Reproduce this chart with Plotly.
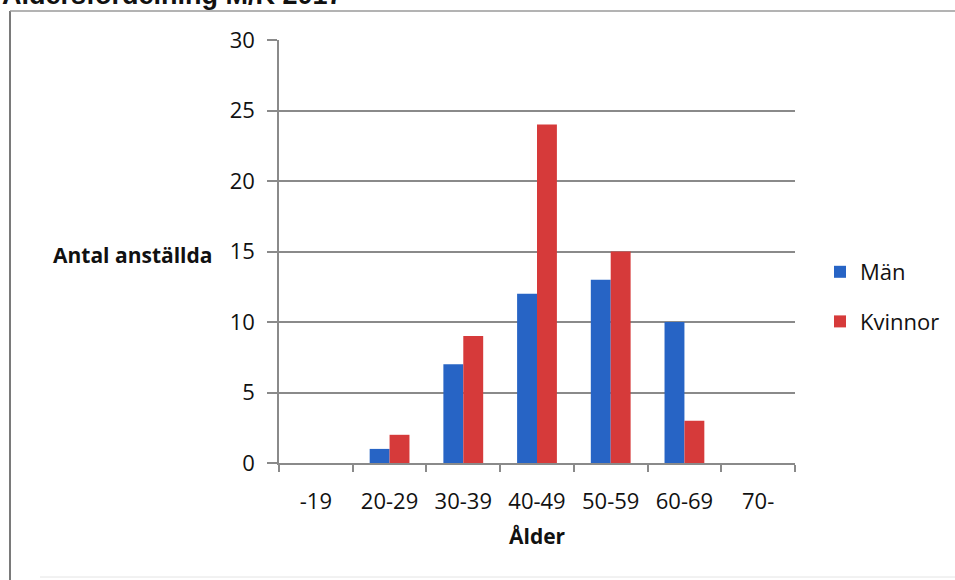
import plotly.graph_objects as go

# Age groups and head counts per group
age_groups = ["-19", "20-29", "30-39", "40-49", "50-59", "60-69", "70-"]
men = [0, 1, 7, 12, 13, 10, 0]
women = [0, 2, 9, 24, 15, 3, 0]
y_ticks = [0, 5, 10, 15, 20, 25, 30]

W, H = 955, 580
L, R, T, B = 279, 160, 40, 117
PW, PH = W - L - R, H - T - B


def px_x(x):
    return (x - L) / PW


def px_y(y):
    return (H - B - y) / PH


FONT = "Open Sans"
GRID = "#8a8a8a"
TXT = "#111"

fig = go.Figure()
fig.add_bar(name="Män", x=age_groups, y=men, marker_color="#2764c5",
            marker_line_width=0, legendgroup="m")
fig.add_bar(name="Kvinnor", x=age_groups, y=women, marker_color="#d63a3a",
            marker_line_width=0, legendgroup="k")

fig.update_layout(
    width=W, height=H,
    margin=dict(l=L, r=R, t=T, b=B, autoexpand=False),
    paper_bgcolor="white", plot_bgcolor="white",
    barmode="group", bargap=0.46, bargroupgap=0,
    font=dict(family=FONT, size=22, color=TXT),
    legend=dict(x=px_x(820), y=px_y(251), xanchor="left", yanchor="top",
                font=dict(family=FONT, size=22, color=TXT),
                tracegroupgap=18, itemwidth=30, bgcolor="rgba(0,0,0,0)"),
    xaxis=dict(type="category", showline=True, linecolor=GRID, linewidth=1.5,
               ticks="outside", tickson="boundaries", ticklen=7, tickcolor=GRID,
               tickwidth=1.5, showgrid=False, ticklabelstandoff=18,
               tickfont=dict(family=FONT, size=22, color=TXT)),
    yaxis=dict(range=[0, 30], tickvals=y_ticks, showline=True, linecolor=GRID,
               linewidth=1.5, ticks="outside", ticklen=10, tickcolor=GRID,
               tickwidth=1.5, showgrid=True, gridcolor=GRID, gridwidth=1.5,
               zeroline=False, ticklabelstandoff=8,
               tickfont=dict(family=FONT, size=22, color=TXT)),
    annotations=[
        dict(text="<b>Åldersfördelning M/K 2017</b>", xref="paper", yref="paper",
             x=px_x(0), y=px_y(-5), xanchor="left", yanchor="middle",
             showarrow=False, font=dict(family="Liberation Sans", size=27, color=TXT)),
        dict(text="<b>Antal anställda</b>", xref="paper", yref="paper",
             x=px_x(214), y=px_y(255), xanchor="right", yanchor="middle",
             showarrow=False, font=dict(family=FONT, size=21, color=TXT)),
        dict(text="<b>Ålder</b>", xref="paper", yref="paper",
             x=px_x(537), y=px_y(536), xanchor="center", yanchor="middle",
             showarrow=False, font=dict(family=FONT, size=21, color=TXT)),
    ],
    shapes=[
        dict(type="line", xref="paper", yref="paper", x0=px_x(10), x1=px_x(10),
             y0=px_y(11), y1=px_y(580), line=dict(color="#7a7a7a", width=2)),
        dict(type="line", xref="paper", yref="paper", x0=px_x(10), x1=px_x(955),
             y0=px_y(11), y1=px_y(11), line=dict(color="#9a9a9a", width=1.5)),
        dict(type="line", xref="paper", yref="paper", x0=px_x(40), x1=px_x(955),
             y0=px_y(577), y1=px_y(577), line=dict(color="#e4e4e4", width=1)),
    ],
)

fig.write_html("out.html")
